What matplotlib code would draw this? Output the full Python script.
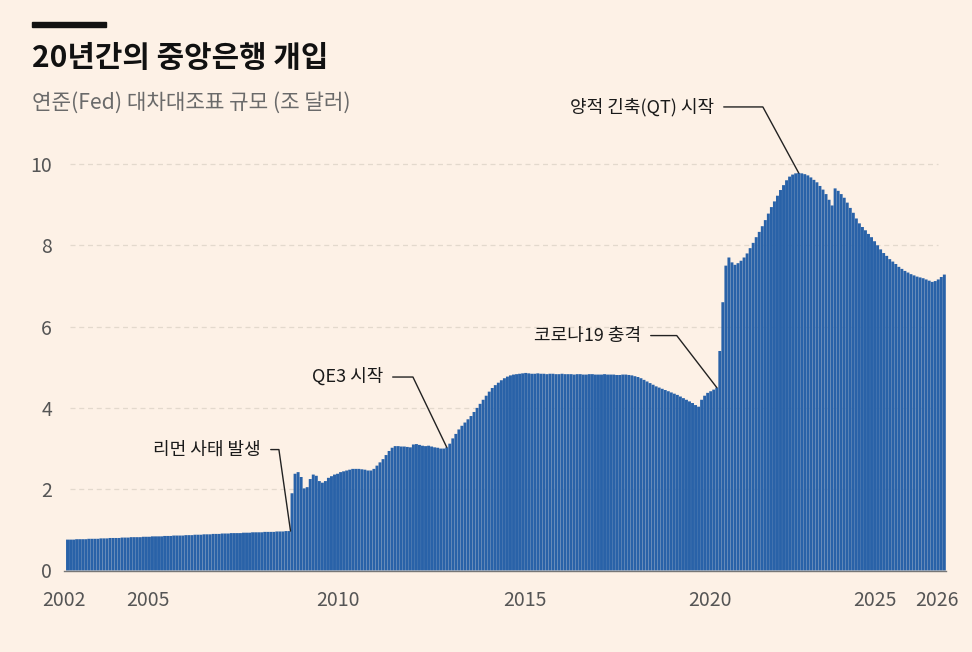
import matplotlib
matplotlib.use('Agg')
import matplotlib.pyplot as plt
from matplotlib.patches import Rectangle

plt.rcParams['font.family'] = ['Noto Sans CJK KR', 'DejaVu Sans']

# Fed balance sheet, trillions of dollars, one bar per month
pre_crisis = [
    0.76, 0.76, 0.76, 0.77, 0.77, 0.77, 0.77, 0.78, 0.78, 0.78,
    0.78, 0.79, 0.79, 0.79, 0.80, 0.80, 0.80, 0.80, 0.81, 0.81,
    0.81, 0.82, 0.82, 0.82, 0.82, 0.83, 0.83, 0.83, 0.84, 0.84,
    0.84, 0.84, 0.85, 0.85, 0.85, 0.86, 0.86, 0.86, 0.86, 0.87,
    0.87, 0.87, 0.88, 0.88, 0.88, 0.89, 0.89, 0.89, 0.90, 0.90,
    0.90, 0.91, 0.91, 0.91, 0.92, 0.92, 0.92, 0.92, 0.93, 0.93,
    0.93, 0.94, 0.94, 0.94, 0.94, 0.95, 0.95, 0.95, 0.95, 0.96,
    0.96, 0.96, 0.97, 0.97,
]
qe_era = [
    1.90, 2.38, 2.42, 2.30, 2.02, 2.05, 2.25, 2.36, 2.33, 2.20,
    2.16, 2.20, 2.28, 2.32, 2.36, 2.38, 2.42, 2.44, 2.46, 2.48,
    2.50, 2.50, 2.50, 2.49, 2.48, 2.46, 2.46, 2.50, 2.58, 2.66,
    2.74, 2.84, 2.94, 3.02, 3.06, 3.06, 3.05, 3.05, 3.04, 3.03,
    3.10, 3.11, 3.09, 3.07, 3.06, 3.07, 3.05, 3.03, 3.02, 3.00,
    3.00, 3.03, 3.12, 3.25, 3.36, 3.47, 3.56, 3.64, 3.72, 3.80,
    3.90, 4.00, 4.10, 4.20, 4.30, 4.40, 4.49, 4.56, 4.62, 4.68,
    4.73, 4.77, 4.80, 4.82, 4.83, 4.84, 4.85, 4.86, 4.85,
]
plateau = [
    4.84, 4.84, 4.85, 4.84, 4.84, 4.83, 4.84, 4.84, 4.83, 4.83,
    4.84, 4.83, 4.83, 4.83, 4.82, 4.83, 4.83, 4.82, 4.82, 4.83,
    4.83, 4.82, 4.82, 4.82, 4.83, 4.82, 4.82, 4.82, 4.81, 4.81,
    4.82, 4.82, 4.81, 4.80,
    4.78, 4.76, 4.73, 4.69, 4.65, 4.61, 4.57, 4.53, 4.50, 4.47,
    4.44, 4.41, 4.38, 4.35, 4.32, 4.28, 4.24, 4.20, 4.16, 4.12,
    4.07, 4.03, 4.20, 4.30, 4.37, 4.41, 4.45, 4.50,
]
pandemic_qt = [
    5.40, 6.60, 7.50, 7.70, 7.58, 7.52, 7.56, 7.62, 7.70, 7.80,
    7.93, 8.06, 8.20, 8.33, 8.47, 8.62, 8.78, 8.94, 9.08, 9.22,
    9.36, 9.48, 9.60, 9.69, 9.74, 9.77, 9.78, 9.77, 9.75, 9.72,
    9.67, 9.61, 9.55, 9.46, 9.37, 9.26, 9.12, 8.98, 9.40, 9.34,
    9.26, 9.17, 9.05, 8.92, 8.80, 8.66, 8.54, 8.45, 8.37, 8.28,
    8.20, 8.10, 8.00, 7.90, 7.81, 7.74, 7.66, 7.60, 7.54, 7.47,
    7.42, 7.37, 7.33, 7.29, 7.26, 7.23, 7.21, 7.19, 7.16, 7.13,
    7.10, 7.12, 7.16, 7.22, 7.28,
]
values = pre_crisis + qe_era + plateau + pandemic_qt

year_labels = ['2002', '2005', '2010', '2015', '2020', '2025', '2026']
year_pos = [-1.2, 26.5, 89.1, 150.8, 211.8, 266.1, 286.6]
y_ticks = [0, 2, 4, 6, 8, 10]

# label, bar index of the event
events = [
    ('리먼 사태 발생', 73),
    ('QE3 시작', 125),
    ('코로나19 충격', 214),
    ('양적 긴축(QT) 시작', 241),
]


def main():
	bg = '#fdf1e6'
	fig = plt.figure(figsize=(9.72, 6.52), dpi=100, facecolor=bg)
	ax = fig.add_axes([0.0601, 0.125, 0.9208, 0.6484])
	ax.set_facecolor(bg)

	x = list(range(len(values)))
	bars = ax.bar(x, values, width=0.97, color='#2962a8', linewidth=0, zorder=2)
	for b in bars:
		b.set_snap(False)

	ax.set_xlim(-3, 292)
	ax.set_ylim(0, 10.4)

	ax.hlines(y_ticks[1:], 0.8, 286.9, colors='#e3d9cd', linestyles=(0, (4, 3)),
	          linewidth=0.9, zorder=1)

	for s in ['top', 'right', 'left']:
		ax.spines[s].set_visible(False)
	ax.spines['bottom'].set_color('#777777')
	ax.spines['bottom'].set_linewidth(1.0)
	ax.spines['bottom'].set_bounds(-1.2, len(values) - 0.5)
	ax.spines['bottom'].set_zorder(3)

	ax.set_yticks(y_ticks)
	ax.set_yticklabels([str(v) for v in y_ticks])
	ax.set_xticks(year_pos)
	ax.set_xticklabels(year_labels)
	ax.tick_params(axis='y', length=0, pad=4.5, labelsize=14, labelcolor='#555555')
	ax.tick_params(axis='x', length=0, pad=14, labelsize=14, labelcolor='#555555')

	# leader lines: (dx, dy) text offset in pixels, angle of the slanted part
	geo = [(-29.5, 81.5, 98.1), (-63.8, 70.3, 115.7),
	       (-75.8, 52.0, 127.6), (-84.7, 66.0, 118.5)]
	for (label, i), (dx, dy, ang) in zip(events, geo):
		ax.annotate(label, xy=(i + 0.5 if i == 73 else i, values[i]),
		            xytext=(dx, dy), textcoords='offset pixels',
		            ha='right', va='center', fontsize=13, color='#1a1a1a',
		            arrowprops=dict(arrowstyle='-', color='#222222', lw=1.0,
		                            connectionstyle='angle,angleA=0,angleB=%s,rad=0' % ang,
		                            relpos=(1, 0.5), shrinkA=5, shrinkB=0),
		            zorder=4)

	fig.patches.append(Rectangle((32 / 972, 1 - 27 / 652), 74 / 972, 5 / 652,
	                             transform=fig.transFigure, color='#111111'))
	fig.text(32 / 972, 1 - 58 / 652, '20년간의 중앙은행 개입', fontsize=21.5,
	         fontweight='bold', color='#111111', va='center', ha='left')
	fig.text(32 / 972, 1 - 103 / 652, '연준(Fed) 대차대조표 규모 (조 달러)', fontsize=15.3,
	         color='#6a6a6a', va='center', ha='left')

	fig.savefig('out.png', dpi=100, facecolor=bg)


if __name__ == '__main__':
	main()
